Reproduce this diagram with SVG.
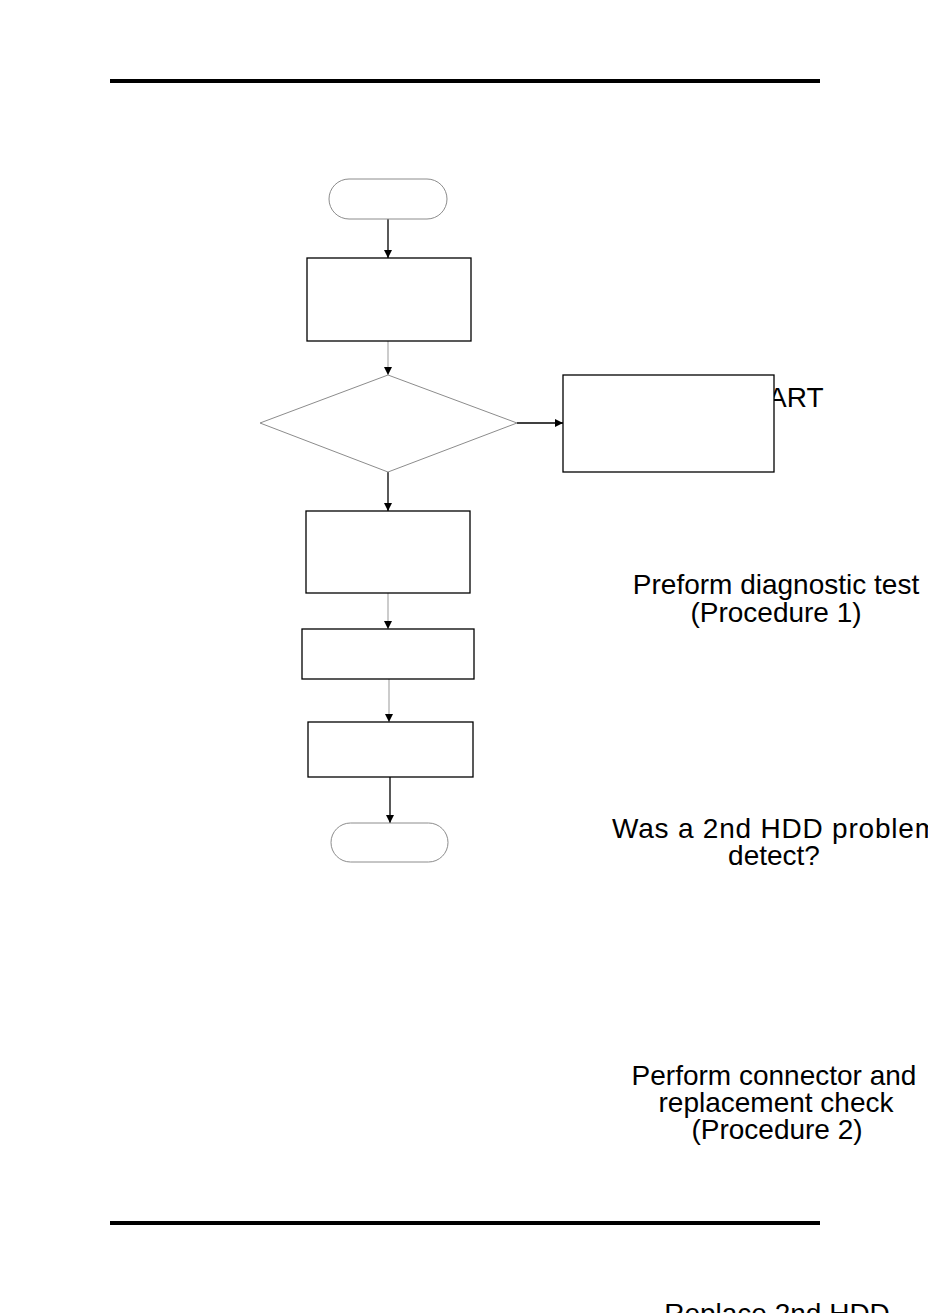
<svg xmlns="http://www.w3.org/2000/svg" width="928" height="1313" viewBox="0 0 928 1313">
<style>
.lbl{font-family:"Liberation Sans",Arial,sans-serif;font-size:28px;fill:#000;text-anchor:middle}
.box{fill:#fff;stroke:#000;stroke-width:1.3}
.term{fill:#fff;stroke:#8c8c8c;stroke-width:1}
.dia{fill:#fff;stroke:#8c8c8c;stroke-width:1}
.c{fill:none;stroke:#000;stroke-width:1.3}
.cg{fill:none;stroke:#999;stroke-width:1}
.rule{stroke:#000;stroke-width:4}
</style>
<defs>
<marker id="ah" markerUnits="userSpaceOnUse" markerWidth="9" markerHeight="9" refX="8" refY="4" orient="auto">
<path d="M0,0 L8,4 L0,8 z" fill="#000"/>
</marker>
</defs>
<rect width="928" height="1313" fill="#fff"/>
<line class="rule" x1="110" y1="81" x2="820" y2="81"/>
<line class="rule" x1="110" y1="1223" x2="820" y2="1223"/>
<g id="labels">
<text class="lbl" x="779" y="407">START</text>
<text class="lbl" x="776" y="594">Preform diagnostic test</text>
<text class="lbl" x="776" y="622">(Procedure 1)</text>
<text class="lbl" x="612" y="838" style="text-anchor:start" textLength="326" lengthAdjust="spacing">Was a 2nd HDD problem</text>
<text class="lbl" x="774" y="865">detect?</text>
<text class="lbl" x="774" y="1085">Perform connector and</text>
<text class="lbl" x="776" y="1112">replacement check</text>
<text class="lbl" x="777" y="1139">(Procedure 2)</text>
<text class="lbl" x="777" y="1323">Replace 2nd HDD</text>
</g>
<g id="connectors">
<line class="c" x1="388" y1="219" x2="388" y2="258" marker-end="url(#ah)"/>
<line class="cg" x1="388" y1="341" x2="388" y2="375" marker-end="url(#ah)"/>
<line class="c" x1="517" y1="423" x2="563" y2="423" marker-end="url(#ah)"/>
<line class="c" x1="388" y1="472" x2="388" y2="511" marker-end="url(#ah)"/>
<line class="cg" x1="388" y1="593" x2="388" y2="629" marker-end="url(#ah)"/>
<line class="cg" x1="389" y1="679" x2="389" y2="722" marker-end="url(#ah)"/>
<line class="c" x1="390" y1="777" x2="390" y2="823" marker-end="url(#ah)"/>
</g>
<g id="start"><rect class="term" x="329" y="179" width="118" height="40" rx="20"/></g>
<g id="box1"><rect class="box" x="307" y="258" width="164" height="83"/></g>
<g id="decision"><polygon class="dia" points="388,375 517,423 388,472 260,423"/></g>
<g id="boxRight"><rect class="box" x="563" y="375" width="211" height="97"/></g>
<g id="box2"><rect class="box" x="306" y="511" width="164" height="82"/></g>
<g id="box3"><rect class="box" x="302" y="629" width="172" height="50"/></g>
<g id="box4"><rect class="box" x="308" y="722" width="165" height="55"/></g>
<g id="end"><rect class="term" x="331" y="823" width="117" height="39" rx="19.5"/></g>
</svg>
